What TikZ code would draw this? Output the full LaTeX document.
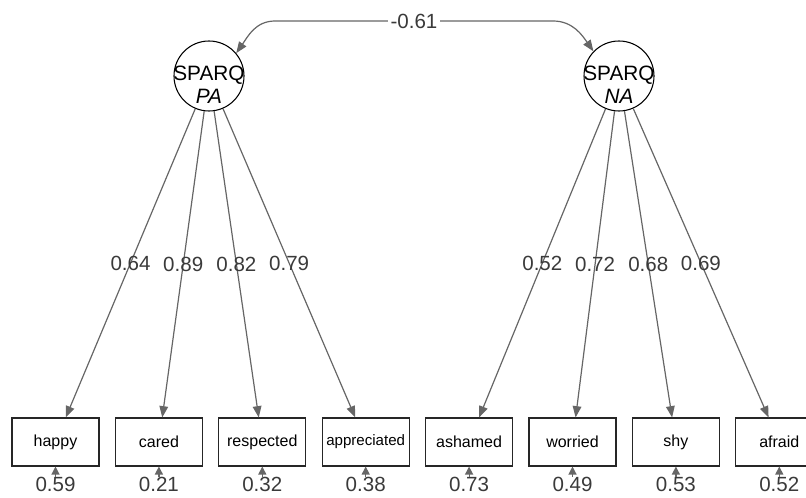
\documentclass[tikz,border=0pt]{standalone}
\usepackage{fontspec}
\setmainfont{Liberation Sans}
\usepackage{tikz}
\usetikzlibrary{positioning}
\usetikzlibrary{arrows.meta}

\definecolor{edgegray}{HTML}{666666}
\definecolor{numgray}{HTML}{3A3A3A}

\begin{document}
\begin{tikzpicture}[x=0.75pt, y=0.75pt]

        \def\d{11.5pt}

        % styles for factors, indicators and the paths between them
        \tikzset{
            latent/.style={circle, draw=black, line width=0.8pt, minimum size=52.5pt, inner sep=0pt},
            latlab/.style={align=center, font=\fontsize{15.6}{17.3}\selectfont, inner sep=0pt},
            manifest/.style={rectangle, draw=black!85, line width=0.8pt, minimum width=65.25pt,
                minimum height=36pt, inner sep=1pt, font=\fontsize{12}{14}\selectfont},
            loading/.style={draw=edgegray, line width=0.9pt, -{Triangle[length=8.5pt, width=6.5pt]}},
            errpath/.style={draw=edgegray, line width=0.9pt, -{Triangle[length=6pt, width=6pt]}},
            cov/.style={draw=edgegray, line width=0.9pt,
                {Triangle[length=8.5pt, width=6.5pt]}-{Triangle[length=8.5pt, width=6.5pt]}},
            coeff/.style={text=numgray, font=\fontsize{15.4}{17}\selectfont, inner sep=0pt},
            resid/.style={text=numgray, font=\fontsize{15.4}{17}\selectfont, inner sep=0pt}
        }

        \clip (0, 0) rectangle (806, 497);

        % latent factors
        \begin{scope}
            \node[latent] (PA) at (209, 421) {};
            \node[latlab] (PAlab) at (209, 412) {SPARQ\\\textit{PA}};
            \node[latent] (NA) at (619, 421) {};
            \node[latlab] (NAlab) at (619, 412) {SPARQ\\\textit{NA}};

            \coordinate (covL) at (275, 476);
            \coordinate (covR) at (553, 476);
        \end{scope}

        % indicators
        \begin{scope}
            \node[manifest] (happy) at (55.5, 55) {happy};
            \node[manifest] (cared) [right=\d of happy] {cared};
            \node[manifest] (respected) [right=\d of cared] {respected};
            \node[manifest, font=\fontsize{11.3}{13}\selectfont] (appreciated) [right=\d of respected] {appreciated};
            \node[manifest] (ashamed) [right=\d of appreciated] {ashamed};
            \node[manifest] (worried) [right=\d of ashamed] {worried};
            \node[manifest] (shy) [right=\d of worried] {shy};
            \node[manifest] (afraid) [right=\d of shy] {afraid};
        \end{scope}

        % residual variances
        \begin{scope}
            \node[resid] (e1) [below=7.5pt of happy] {0.59};
            \node[resid] (e2) [below=7.5pt of cared] {0.21};
            \node[resid] (e3) [below=7.5pt of respected] {0.32};
            \node[resid] (e4) [below=7.5pt of appreciated] {0.38};
            \node[resid] (e5) [below=7.5pt of ashamed] {0.73};
            \node[resid] (e6) [below=7.5pt of worried] {0.49};
            \node[resid] (e7) [below=7.5pt of shy] {0.53};
            \node[resid] (e8) [below=7.5pt of afraid] {0.52};
        \end{scope}

        \begin{scope}
            \draw[cov] (PA.40) to[out=55, in=180] (covL)
                -- node[coeff, fill=white, inner sep=2pt] (corr) {-0.61} (covR)
                to[out=0, in=125] (NA.136);

            \draw[loading] (PA) -- node[coeff] (l1) {0.64} (happy);
            \draw[loading] (PA) -- node[coeff] (l2) {0.89} (cared);
            \draw[loading] (PA) -- node[coeff] (l3) {0.82} (respected);
            \draw[loading] (PA) -- node[coeff] (l4) {0.79} (appreciated);

            \draw[loading] (NA) -- node[coeff] (l5) {0.52} (ashamed);
            \draw[loading] (NA) -- node[coeff] (l6) {0.72} (worried);
            \draw[loading] (NA) -- node[coeff] (l7) {0.68} (shy);
            \draw[loading] (NA) -- node[coeff] (l8) {0.69} (afraid);

            \draw[errpath] (e1) -- (happy);
            \draw[errpath] (e2) -- (cared);
            \draw[errpath] (e3) -- (respected);
            \draw[errpath] (e4) -- (appreciated);
            \draw[errpath] (e5) -- (ashamed);
            \draw[errpath] (e6) -- (worried);
            \draw[errpath] (e7) -- (shy);
            \draw[errpath] (e8) -- (afraid);
        \end{scope}

        \end{tikzpicture}
\end{document}
